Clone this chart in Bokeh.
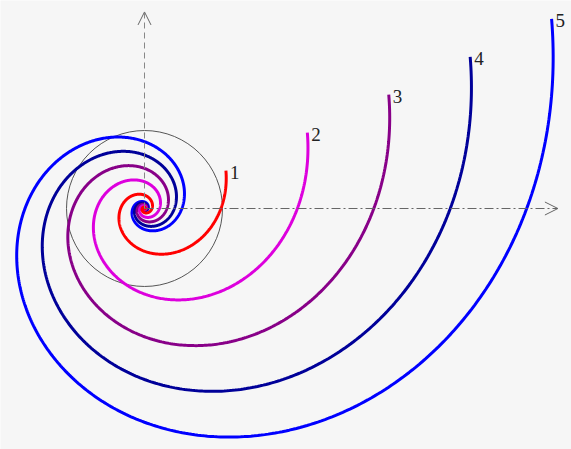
import numpy as np
from bokeh.plotting import figure
from bokeh.models import Arrow, OpenHead, Range1d
from bokeh.embed import file_html
from bokeh.resources import INLINE
from bokeh.core.properties import value

# ---- data (units: circle radius = 1) ----
labels = ["1", "2", "3", "4", "5"]
scales = [0.98, 1.96, 2.94, 3.92, 4.90]          # radius where curve crosses the +x axis
colors = ["#ff0000", "#dd00dd", "#880088", "#000099", "#0000ff"]
growth = 0.37                                      # log-spiral growth rate b (r = a*exp(b*theta))
theta_end = 0.436                                  # end polar angle (rad), same for all curves
turns_inside = 6                                   # inner extent, in multiples of pi
circle_r = 1.0
x_axis_end = 5.3
y_axis_end = 2.52

p = figure(width=571, height=449, output_backend="svg", toolbar_location=None,
           x_range=Range1d(-1.8462, 5.4744), y_range=Range1d(-3.0897, 2.6667),
           min_border=0, background_fill_color="#f6f6f6", border_fill_color="#f6f6f6")
p.axis.visible = False
p.grid.visible = False
p.outline_line_color = None

# axes with open arrow heads
p.add_layout(Arrow(end=OpenHead(size=13, line_color="#666666", line_width=1),
                   x_start=0, y_start=0, x_end=x_axis_end, y_end=0,
                   line_color="#666666", line_width=1, line_dash="9 3 2 3"))
p.add_layout(Arrow(end=OpenHead(size=13, line_color="#666666", line_width=1),
                   x_start=0, y_start=0, x_end=0, y_end=y_axis_end,
                   line_color="#888888", line_width=1, line_dash="6 4"))

# reference circle
p.circle(x=[0], y=[0], radius=circle_r, fill_color=None, line_color="#555555", line_width=1)

theta = np.linspace(-turns_inside * np.pi, theta_end, 1500)
for a, c in reversed(list(zip(scales, colors))):
    r = a * np.exp(growth * theta)
    p.line(r * np.cos(theta), r * np.sin(theta), line_color=c, line_width=3)

ex = [a * np.exp(growth * theta_end) * np.cos(theta_end) for a in scales]
ey = [a * np.exp(growth * theta_end) * np.sin(theta_end) for a in scales]
p.text(x=ex, y=ey, text=labels, x_offset=4, y_offset=2, text_baseline="middle",
       text_font=value("Liberation Serif"), text_font_size="19px", text_color="#222222")

open("out.html", "w").write(file_html(p, INLINE))
